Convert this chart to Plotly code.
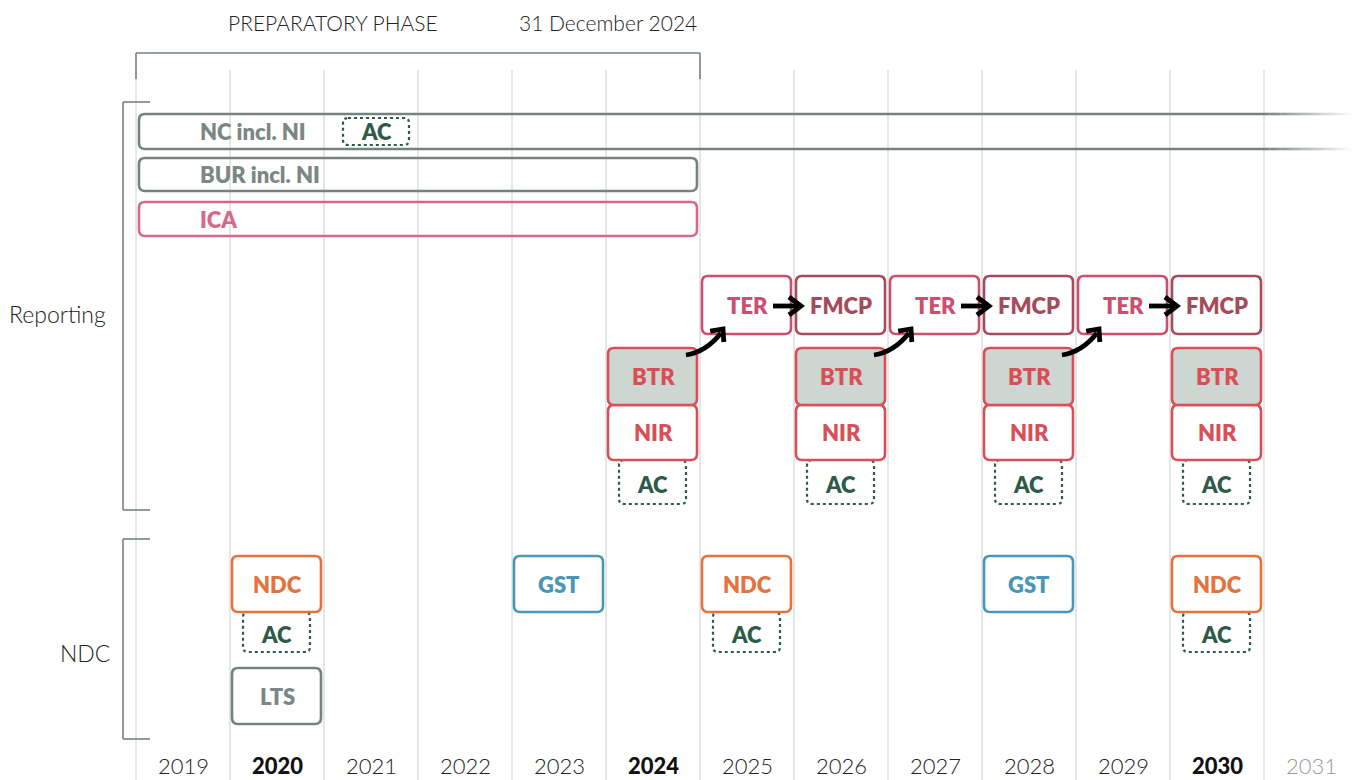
import math
import plotly.graph_objects as go

# ---------------- data ----------------
years = list(range(2019, 2032))
bold_years = [2020, 2024, 2030]
faded_years = [2031]
prep_start, prep_end = 2019, 2025          # preparatory phase up to 31 Dec 2024
ongoing_labels = ["NC incl. NI", "BUR incl. NI", "ICA"]
ongoing_rows = ["NC", "BUR", "ICA"]
ongoing_end = [None, 2025, 2025]          # None = continues beyond chart
nc_ac_year = 2021
ter_years = [2025, 2027, 2029]
fmcp_years = [2026, 2028, 2030]
btr_years = [2024, 2026, 2028, 2030]
ndc_years = [2020, 2025, 2030]
gst_years = [2023, 2028]
lts_years = [2020]

# ---------------- layout / style ----------------
W, H = 1352, 780
COLPX = 94.0
PX = 1.0 / COLPX                 # one pixel in year units
X0 = prep_start - 136 * PX
X1 = X0 + W * PX

rows = {
    "NC": (114, 149), "BUR": (158, 191), "ICA": (202, 236),
    "TER": (276, 334), "BTR": (348, 405), "NIR": (405, 460), "RAC": (460, 504),
    "NDC": (556, 612), "NAC": (612, 652), "LTS": (668, 724),
}

GRAY = "#76827f"
GRAYTXT = "#7b8784"
PINK = "#d4698a"
TERC = "#cc4f70"
FMCPC = "#a54b5b"
RED = "#d84f58"
BTRFILL = "#cdd6d1"
GREEN = "#2e5b47"
ORANGE = "#e3733f"
BLUE = "#4a96b6"
GRID = "#dcdfdf"
FONT = "Lato, 'Open Sans', sans-serif"
LBL = 22
LBLW = 800

shapes = []
annotations = []


def rpath(xa, xb, ya, yb, r=6):
    rx = r * PX
    return (f"M {xa+rx},{ya} L {xb-rx},{ya} Q {xb},{ya} {xb},{ya+r} "
            f"L {xb},{yb-r} Q {xb},{yb} {xb-rx},{yb} L {xa+rx},{yb} "
            f"Q {xa},{yb} {xa},{yb-r} L {xa},{ya+r} Q {xa},{ya} {xa+rx},{ya} Z")


def box(xa, xb, row, color, fill="white", dash="solid", width=2.6, r=6):
    ya, yb = rows[row]
    shapes.append(dict(type="path", path=rpath(xa, xb, ya, yb, r), xref="x", yref="y",
                       line=dict(color=color, width=width, dash=dash),
                       fillcolor=fill, layer="above"))


def label(x, y, text, color, size=LBL, weight=LBLW, anchor="center"):
    annotations.append(dict(x=x, y=y, xref="x", yref="y", text=text, showarrow=False,
                            xanchor=anchor, yanchor="middle",
                            font=dict(family=FONT, size=size, color=color, weight=weight)))


def line(xa, ya, xb, yb, color, width=1.6, layer="above"):
    shapes.append(dict(type="line", x0=xa, y0=ya, x1=xb, y1=yb, xref="x", yref="y",
                       line=dict(color=color, width=width), layer=layer))


def rowmid(row):
    return sum(rows[row]) / 2


# gridlines
for yr in years:
    line(yr, 70, yr, H, GRID, 1.5, layer="below")

# top bracket
line(prep_start, 53, prep_end, 53, GRAY, 1.6)
line(prep_start, 53, prep_start, 79, GRAY, 1.6)
line(prep_end, 53, prep_end, 79, GRAY, 1.6)
label(prep_start + 2.1, 22, "PREPARATORY PHASE", "#222222", size=21, weight=300)
label(prep_end - 1 * PX, 22, "31 December 2024", "#222222", size=21, weight=300, anchor="right")

# left brackets
bx, bt = prep_start - 13 * PX, prep_start + 14 * PX
for (ya, yb) in [(102, 510), (539, 739)]:
    line(bx, ya, bx, yb, GRAY, 1.6)
    line(bx, ya, bt, ya, GRAY, 1.6)
    line(bx, yb, bt, yb, GRAY, 1.6)
label(prep_start - 28 * PX, 314, "Reporting", "#222222", size=23, weight=300, anchor="right")
label(prep_start - 24 * PX, 653, "NDC", "#222222", size=23, weight=300, anchor="right")

# ongoing rows
ongo_colors = [GRAY, GRAY, PINK]
ongo_txt = [GRAYTXT, GRAYTXT, PINK]
for lab, row, end, c, tc in zip(ongoing_labels, ongoing_rows, ongoing_end, ongo_colors, ongo_txt):
    ya, yb = rows[row]
    xa = prep_start + 3 * PX
    if end is None:
        xf = years[-1]
        r = 6
        path = (f"M {xf},{ya} L {xa+r*PX},{ya} Q {xa},{ya} {xa},{ya+r} L {xa},{yb-r} "
                f"Q {xa},{yb} {xa+r*PX},{yb} L {xf},{yb}")
        shapes.append(dict(type="path", path=path, xref="x", yref="y",
                           line=dict(color=c, width=2.6), layer="above"))
        n = 16
        step = (X1 - xf) / n
        for i in range(n):
            op = 1 - (i + 0.5) / n
            for yy in (ya, yb):
                shapes.append(dict(type="line", x0=xf + i * step, x1=xf + (i + 1) * step + 0.001,
                                   y0=yy, y1=yy, xref="x", yref="y", opacity=op,
                                   line=dict(color=c, width=2.6), layer="above"))
    else:
        box(xa, end - 3 * PX, row, c, fill="rgba(0,0,0,0)")
    label(prep_start + 62 * PX, rowmid(row), lab, tc, anchor="left")

# AC in NC row
ya, yb = rows["NC"]
shapes.append(dict(type="path", path=rpath(nc_ac_year + 19 * PX, nc_ac_year + 85 * PX, ya + 4, yb - 4, 5),
                   xref="x", yref="y", line=dict(color=GREEN, width=2.2, dash="dot"),
                   fillcolor="white", layer="above"))
label(nc_ac_year + 52 * PX, rowmid("NC"), "AC", GREEN)


def colbox(yr, row, color, text, tcolor, fill="white"):
    box(yr + 2 * PX, yr + 1 - 3 * PX, row, color, fill=fill)
    label(yr + 0.5, rowmid(row), text, tcolor)


def acbox(yr, row):
    box(yr + 13 * PX, yr + 1 - 14 * PX, row, GREEN, fill="rgba(0,0,0,0)", dash="dot", width=2.2, r=5)
    label(yr + 0.5 - 0.5 * PX, rowmid(row) + 2, "AC", GREEN)


# reporting columns
for yr in btr_years:
    acbox(yr, "RAC")
    colbox(yr, "NIR", RED, "NIR", RED)
    colbox(yr, "BTR", RED, "BTR", RED, fill=BTRFILL)
for yr in ter_years:
    colbox(yr, "TER", TERC, "TER", TERC)
for yr in fmcp_years:
    colbox(yr, "TER", FMCPC, "FMCP", FMCPC)

# NDC section
for yr in ndc_years:
    acbox(yr, "NAC")
    colbox(yr, "NDC", ORANGE, "NDC", ORANGE)
for yr in gst_years:
    colbox(yr, "NDC", BLUE, "GST", BLUE)
for yr in lts_years:
    colbox(yr, "LTS", GRAY, "LTS", GRAYTXT)


# arrows
def chevron(tx, ty, dx, dy, L=11, ang=42):
    n = math.hypot(dx, dy)
    ux, uy = dx / n, dy / n
    pts = []
    for s in (1, -1):
        a = math.radians(ang * s)
        rx = ux * math.cos(a) - uy * math.sin(a)
        ry = ux * math.sin(a) + uy * math.cos(a)
        pts.append((tx - L * rx, ty - L * ry))
    return pts


def to_data(ref_year, pts_px):
    return [(ref_year + px * PX, py) for px, py in pts_px]


# curved arrows BTR -> TER
for yr in ter_years:
    s, c, t = (-14, 355), (6, 352), (21, 333)
    (sx, sy), (cx, cy), (tx, ty) = to_data(yr, [s, c, t])
    shapes.append(dict(type="path", path=f"M {sx},{sy} Q {cx},{cy} {tx},{ty}", xref="x", yref="y",
                       line=dict(color="black", width=4.8), layer="above"))
    tip_px = (t[0] + 2, t[1] - 4)
    a1, a2 = chevron(tip_px[0], tip_px[1], t[0] - c[0], t[1] - c[1], L=13)
    p1, tip, p2 = to_data(yr, [a1, tip_px, a2])
    shapes.append(dict(type="path", path=f"M {p1[0]},{p1[1]} L {tip[0]},{tip[1]} L {p2[0]},{p2[1]}",
                       xref="x", yref="y", line=dict(color="black", width=4.8), layer="above"))

# straight arrows TER -> FMCP
for yr in fmcp_years:
    y = rowmid("TER") + 1
    line(yr - 21 * PX, y, yr + 5 * PX, y, "black", 4.8)
    p1, tip, p2 = to_data(yr, [(-5, y - 9), (7, y), (-5, y + 9)])
    shapes.append(dict(type="path", path=f"M {p1[0]},{p1[1]} L {tip[0]},{tip[1]} L {p2[0]},{p2[1]}",
                       xref="x", yref="y", line=dict(color="black", width=4.8), layer="above"))

# year labels
for yr in years:
    if yr in bold_years:
        col, wt = "#111111", 900
    elif yr in faded_years:
        col, wt = "#9a9a9a", 300
    else:
        col, wt = "#222222", 300
    label(yr + 0.5, 765, str(yr), col, size=22, weight=wt)

fig = go.Figure()
fig.add_trace(go.Scatter(x=[X0, X1], y=[0, H], mode="markers", marker=dict(opacity=0),
                         hoverinfo="skip", showlegend=False))
fig.update_layout(
    width=W, height=H, margin=dict(l=0, r=0, t=0, b=0),
    paper_bgcolor="white", plot_bgcolor="white",
    xaxis=dict(range=[X0, X1], visible=False, fixedrange=True),
    yaxis=dict(range=[H, 0], visible=False, fixedrange=True),
    shapes=shapes, annotations=annotations, showlegend=False,
)
fig.write_html("out.html", config={"displayModeBar": False},
               post_script="document.body.style.margin='0';")
